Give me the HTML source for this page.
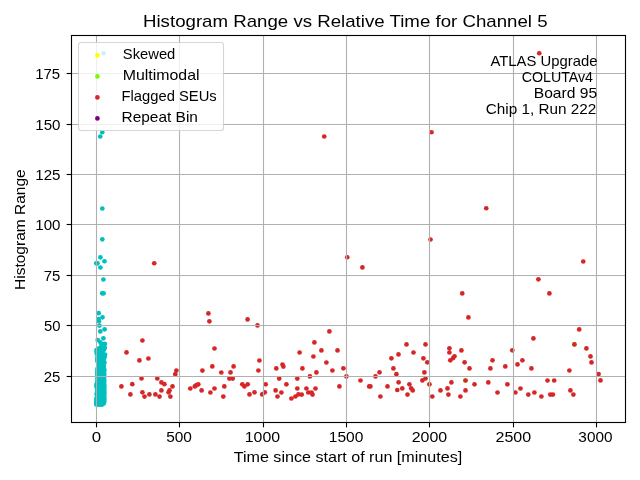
<!DOCTYPE html><html><head><meta charset="utf-8"><title>Histogram Range vs Relative Time</title><style>html,body{margin:0;padding:0;background:#fff;width:640px;height:480px;overflow:hidden}svg{display:block;will-change:transform}text{font-family:"Liberation Sans",sans-serif;fill:#000}</style></head><body>
<svg width="640" height="480" viewBox="0 0 640 480">
<rect width="640" height="480" fill="#fff"/>
<g id="pts">
<circle cx="100.55" cy="347.60" r="2.35" fill="#00bfbf"/>
<circle cx="101.58" cy="347.60" r="2.35" fill="#00bfbf"/>
<circle cx="102.60" cy="347.60" r="2.35" fill="#00bfbf"/>
<circle cx="103.62" cy="347.60" r="2.35" fill="#00bfbf"/>
<circle cx="104.65" cy="347.60" r="2.35" fill="#00bfbf"/>
<circle cx="98.95" cy="349.00" r="2.35" fill="#00bfbf"/>
<circle cx="99.99" cy="349.00" r="2.35" fill="#00bfbf"/>
<circle cx="101.03" cy="349.00" r="2.35" fill="#00bfbf"/>
<circle cx="102.07" cy="349.00" r="2.35" fill="#00bfbf"/>
<circle cx="103.11" cy="349.00" r="2.35" fill="#00bfbf"/>
<circle cx="104.15" cy="349.00" r="2.35" fill="#00bfbf"/>
<circle cx="96.55" cy="350.00" r="2.35" fill="#00bfbf"/>
<circle cx="97.73" cy="350.00" r="2.35" fill="#00bfbf"/>
<circle cx="98.92" cy="350.00" r="2.35" fill="#00bfbf"/>
<circle cx="100.10" cy="350.00" r="2.35" fill="#00bfbf"/>
<circle cx="101.28" cy="350.00" r="2.35" fill="#00bfbf"/>
<circle cx="102.47" cy="350.00" r="2.35" fill="#00bfbf"/>
<circle cx="103.65" cy="350.00" r="2.35" fill="#00bfbf"/>
<circle cx="96.55" cy="352.00" r="2.35" fill="#00bfbf"/>
<circle cx="97.69" cy="352.00" r="2.35" fill="#00bfbf"/>
<circle cx="98.83" cy="352.00" r="2.35" fill="#00bfbf"/>
<circle cx="99.97" cy="352.00" r="2.35" fill="#00bfbf"/>
<circle cx="101.11" cy="352.00" r="2.35" fill="#00bfbf"/>
<circle cx="102.25" cy="352.00" r="2.35" fill="#00bfbf"/>
<circle cx="96.95" cy="354.00" r="2.35" fill="#00bfbf"/>
<circle cx="98.09" cy="354.00" r="2.35" fill="#00bfbf"/>
<circle cx="99.23" cy="354.00" r="2.35" fill="#00bfbf"/>
<circle cx="100.37" cy="354.00" r="2.35" fill="#00bfbf"/>
<circle cx="101.51" cy="354.00" r="2.35" fill="#00bfbf"/>
<circle cx="102.65" cy="354.00" r="2.35" fill="#00bfbf"/>
<circle cx="99.85" cy="355.50" r="2.35" fill="#00bfbf"/>
<circle cx="101.00" cy="355.50" r="2.35" fill="#00bfbf"/>
<circle cx="102.15" cy="355.50" r="2.35" fill="#00bfbf"/>
<circle cx="103.30" cy="355.50" r="2.35" fill="#00bfbf"/>
<circle cx="104.45" cy="355.50" r="2.35" fill="#00bfbf"/>
<circle cx="97.55" cy="357.00" r="2.35" fill="#00bfbf"/>
<circle cx="98.73" cy="357.00" r="2.35" fill="#00bfbf"/>
<circle cx="99.92" cy="357.00" r="2.35" fill="#00bfbf"/>
<circle cx="101.10" cy="357.00" r="2.35" fill="#00bfbf"/>
<circle cx="102.28" cy="357.00" r="2.35" fill="#00bfbf"/>
<circle cx="103.47" cy="357.00" r="2.35" fill="#00bfbf"/>
<circle cx="104.65" cy="357.00" r="2.35" fill="#00bfbf"/>
<circle cx="97.35" cy="359.00" r="2.35" fill="#00bfbf"/>
<circle cx="98.43" cy="359.00" r="2.35" fill="#00bfbf"/>
<circle cx="99.52" cy="359.00" r="2.35" fill="#00bfbf"/>
<circle cx="100.60" cy="359.00" r="2.35" fill="#00bfbf"/>
<circle cx="101.68" cy="359.00" r="2.35" fill="#00bfbf"/>
<circle cx="102.77" cy="359.00" r="2.35" fill="#00bfbf"/>
<circle cx="103.85" cy="359.00" r="2.35" fill="#00bfbf"/>
<circle cx="97.35" cy="361.00" r="2.35" fill="#00bfbf"/>
<circle cx="98.57" cy="361.00" r="2.35" fill="#00bfbf"/>
<circle cx="99.79" cy="361.00" r="2.35" fill="#00bfbf"/>
<circle cx="101.01" cy="361.00" r="2.35" fill="#00bfbf"/>
<circle cx="102.23" cy="361.00" r="2.35" fill="#00bfbf"/>
<circle cx="103.45" cy="361.00" r="2.35" fill="#00bfbf"/>
<circle cx="98.75" cy="362.50" r="2.35" fill="#00bfbf"/>
<circle cx="99.89" cy="362.50" r="2.35" fill="#00bfbf"/>
<circle cx="101.03" cy="362.50" r="2.35" fill="#00bfbf"/>
<circle cx="102.17" cy="362.50" r="2.35" fill="#00bfbf"/>
<circle cx="103.31" cy="362.50" r="2.35" fill="#00bfbf"/>
<circle cx="104.45" cy="362.50" r="2.35" fill="#00bfbf"/>
<circle cx="98.75" cy="364.00" r="2.35" fill="#00bfbf"/>
<circle cx="100.03" cy="364.00" r="2.35" fill="#00bfbf"/>
<circle cx="101.30" cy="364.00" r="2.35" fill="#00bfbf"/>
<circle cx="102.58" cy="364.00" r="2.35" fill="#00bfbf"/>
<circle cx="103.85" cy="364.00" r="2.35" fill="#00bfbf"/>
<circle cx="98.75" cy="366.00" r="2.35" fill="#00bfbf"/>
<circle cx="99.97" cy="366.00" r="2.35" fill="#00bfbf"/>
<circle cx="101.20" cy="366.00" r="2.35" fill="#00bfbf"/>
<circle cx="102.43" cy="366.00" r="2.35" fill="#00bfbf"/>
<circle cx="103.65" cy="366.00" r="2.35" fill="#00bfbf"/>
<circle cx="97.75" cy="368.00" r="2.35" fill="#00bfbf"/>
<circle cx="98.97" cy="368.00" r="2.35" fill="#00bfbf"/>
<circle cx="100.19" cy="368.00" r="2.35" fill="#00bfbf"/>
<circle cx="101.41" cy="368.00" r="2.35" fill="#00bfbf"/>
<circle cx="102.63" cy="368.00" r="2.35" fill="#00bfbf"/>
<circle cx="103.85" cy="368.00" r="2.35" fill="#00bfbf"/>
<circle cx="97.35" cy="370.00" r="2.35" fill="#00bfbf"/>
<circle cx="98.53" cy="370.00" r="2.35" fill="#00bfbf"/>
<circle cx="99.72" cy="370.00" r="2.35" fill="#00bfbf"/>
<circle cx="100.90" cy="370.00" r="2.35" fill="#00bfbf"/>
<circle cx="102.08" cy="370.00" r="2.35" fill="#00bfbf"/>
<circle cx="103.27" cy="370.00" r="2.35" fill="#00bfbf"/>
<circle cx="104.45" cy="370.00" r="2.35" fill="#00bfbf"/>
<circle cx="97.35" cy="372.00" r="2.35" fill="#00bfbf"/>
<circle cx="98.47" cy="372.00" r="2.35" fill="#00bfbf"/>
<circle cx="99.58" cy="372.00" r="2.35" fill="#00bfbf"/>
<circle cx="100.70" cy="372.00" r="2.35" fill="#00bfbf"/>
<circle cx="101.82" cy="372.00" r="2.35" fill="#00bfbf"/>
<circle cx="102.93" cy="372.00" r="2.35" fill="#00bfbf"/>
<circle cx="104.05" cy="372.00" r="2.35" fill="#00bfbf"/>
<circle cx="97.35" cy="374.00" r="2.35" fill="#00bfbf"/>
<circle cx="98.50" cy="374.00" r="2.35" fill="#00bfbf"/>
<circle cx="99.65" cy="374.00" r="2.35" fill="#00bfbf"/>
<circle cx="100.80" cy="374.00" r="2.35" fill="#00bfbf"/>
<circle cx="101.95" cy="374.00" r="2.35" fill="#00bfbf"/>
<circle cx="103.10" cy="374.00" r="2.35" fill="#00bfbf"/>
<circle cx="104.25" cy="374.00" r="2.35" fill="#00bfbf"/>
<circle cx="97.45" cy="376.00" r="2.35" fill="#00bfbf"/>
<circle cx="98.57" cy="376.00" r="2.35" fill="#00bfbf"/>
<circle cx="99.68" cy="376.00" r="2.35" fill="#00bfbf"/>
<circle cx="100.80" cy="376.00" r="2.35" fill="#00bfbf"/>
<circle cx="101.92" cy="376.00" r="2.35" fill="#00bfbf"/>
<circle cx="103.03" cy="376.00" r="2.35" fill="#00bfbf"/>
<circle cx="104.15" cy="376.00" r="2.35" fill="#00bfbf"/>
<circle cx="97.45" cy="378.00" r="2.35" fill="#00bfbf"/>
<circle cx="98.55" cy="378.00" r="2.35" fill="#00bfbf"/>
<circle cx="99.65" cy="378.00" r="2.35" fill="#00bfbf"/>
<circle cx="100.75" cy="378.00" r="2.35" fill="#00bfbf"/>
<circle cx="101.85" cy="378.00" r="2.35" fill="#00bfbf"/>
<circle cx="102.95" cy="378.00" r="2.35" fill="#00bfbf"/>
<circle cx="104.05" cy="378.00" r="2.35" fill="#00bfbf"/>
<circle cx="97.45" cy="380.00" r="2.35" fill="#00bfbf"/>
<circle cx="98.58" cy="380.00" r="2.35" fill="#00bfbf"/>
<circle cx="99.72" cy="380.00" r="2.35" fill="#00bfbf"/>
<circle cx="100.85" cy="380.00" r="2.35" fill="#00bfbf"/>
<circle cx="101.98" cy="380.00" r="2.35" fill="#00bfbf"/>
<circle cx="103.12" cy="380.00" r="2.35" fill="#00bfbf"/>
<circle cx="104.25" cy="380.00" r="2.35" fill="#00bfbf"/>
<circle cx="97.45" cy="382.00" r="2.35" fill="#00bfbf"/>
<circle cx="98.57" cy="382.00" r="2.35" fill="#00bfbf"/>
<circle cx="99.68" cy="382.00" r="2.35" fill="#00bfbf"/>
<circle cx="100.80" cy="382.00" r="2.35" fill="#00bfbf"/>
<circle cx="101.92" cy="382.00" r="2.35" fill="#00bfbf"/>
<circle cx="103.03" cy="382.00" r="2.35" fill="#00bfbf"/>
<circle cx="104.15" cy="382.00" r="2.35" fill="#00bfbf"/>
<circle cx="96.55" cy="384.00" r="2.35" fill="#00bfbf"/>
<circle cx="97.83" cy="384.00" r="2.35" fill="#00bfbf"/>
<circle cx="99.12" cy="384.00" r="2.35" fill="#00bfbf"/>
<circle cx="100.40" cy="384.00" r="2.35" fill="#00bfbf"/>
<circle cx="101.68" cy="384.00" r="2.35" fill="#00bfbf"/>
<circle cx="102.97" cy="384.00" r="2.35" fill="#00bfbf"/>
<circle cx="104.25" cy="384.00" r="2.35" fill="#00bfbf"/>
<circle cx="96.35" cy="386.00" r="2.35" fill="#00bfbf"/>
<circle cx="97.49" cy="386.00" r="2.35" fill="#00bfbf"/>
<circle cx="98.64" cy="386.00" r="2.35" fill="#00bfbf"/>
<circle cx="99.78" cy="386.00" r="2.35" fill="#00bfbf"/>
<circle cx="100.92" cy="386.00" r="2.35" fill="#00bfbf"/>
<circle cx="102.06" cy="386.00" r="2.35" fill="#00bfbf"/>
<circle cx="103.21" cy="386.00" r="2.35" fill="#00bfbf"/>
<circle cx="104.35" cy="386.00" r="2.35" fill="#00bfbf"/>
<circle cx="96.95" cy="388.00" r="2.35" fill="#00bfbf"/>
<circle cx="98.18" cy="388.00" r="2.35" fill="#00bfbf"/>
<circle cx="99.42" cy="388.00" r="2.35" fill="#00bfbf"/>
<circle cx="100.65" cy="388.00" r="2.35" fill="#00bfbf"/>
<circle cx="101.88" cy="388.00" r="2.35" fill="#00bfbf"/>
<circle cx="103.12" cy="388.00" r="2.35" fill="#00bfbf"/>
<circle cx="104.35" cy="388.00" r="2.35" fill="#00bfbf"/>
<circle cx="97.35" cy="390.00" r="2.35" fill="#00bfbf"/>
<circle cx="98.50" cy="390.00" r="2.35" fill="#00bfbf"/>
<circle cx="99.65" cy="390.00" r="2.35" fill="#00bfbf"/>
<circle cx="100.80" cy="390.00" r="2.35" fill="#00bfbf"/>
<circle cx="101.95" cy="390.00" r="2.35" fill="#00bfbf"/>
<circle cx="103.10" cy="390.00" r="2.35" fill="#00bfbf"/>
<circle cx="104.25" cy="390.00" r="2.35" fill="#00bfbf"/>
<circle cx="97.35" cy="392.00" r="2.35" fill="#00bfbf"/>
<circle cx="98.52" cy="392.00" r="2.35" fill="#00bfbf"/>
<circle cx="99.68" cy="392.00" r="2.35" fill="#00bfbf"/>
<circle cx="100.85" cy="392.00" r="2.35" fill="#00bfbf"/>
<circle cx="102.02" cy="392.00" r="2.35" fill="#00bfbf"/>
<circle cx="103.18" cy="392.00" r="2.35" fill="#00bfbf"/>
<circle cx="104.35" cy="392.00" r="2.35" fill="#00bfbf"/>
<circle cx="96.55" cy="394.00" r="2.35" fill="#00bfbf"/>
<circle cx="97.66" cy="394.00" r="2.35" fill="#00bfbf"/>
<circle cx="98.78" cy="394.00" r="2.35" fill="#00bfbf"/>
<circle cx="99.89" cy="394.00" r="2.35" fill="#00bfbf"/>
<circle cx="101.01" cy="394.00" r="2.35" fill="#00bfbf"/>
<circle cx="102.12" cy="394.00" r="2.35" fill="#00bfbf"/>
<circle cx="103.24" cy="394.00" r="2.35" fill="#00bfbf"/>
<circle cx="104.35" cy="394.00" r="2.35" fill="#00bfbf"/>
<circle cx="97.35" cy="396.00" r="2.35" fill="#00bfbf"/>
<circle cx="98.50" cy="396.00" r="2.35" fill="#00bfbf"/>
<circle cx="99.65" cy="396.00" r="2.35" fill="#00bfbf"/>
<circle cx="100.80" cy="396.00" r="2.35" fill="#00bfbf"/>
<circle cx="101.95" cy="396.00" r="2.35" fill="#00bfbf"/>
<circle cx="103.10" cy="396.00" r="2.35" fill="#00bfbf"/>
<circle cx="104.25" cy="396.00" r="2.35" fill="#00bfbf"/>
<circle cx="96.55" cy="398.00" r="2.35" fill="#00bfbf"/>
<circle cx="97.66" cy="398.00" r="2.35" fill="#00bfbf"/>
<circle cx="98.78" cy="398.00" r="2.35" fill="#00bfbf"/>
<circle cx="99.89" cy="398.00" r="2.35" fill="#00bfbf"/>
<circle cx="101.01" cy="398.00" r="2.35" fill="#00bfbf"/>
<circle cx="102.12" cy="398.00" r="2.35" fill="#00bfbf"/>
<circle cx="103.24" cy="398.00" r="2.35" fill="#00bfbf"/>
<circle cx="104.35" cy="398.00" r="2.35" fill="#00bfbf"/>
<circle cx="96.35" cy="400.00" r="2.35" fill="#00bfbf"/>
<circle cx="97.49" cy="400.00" r="2.35" fill="#00bfbf"/>
<circle cx="98.64" cy="400.00" r="2.35" fill="#00bfbf"/>
<circle cx="99.78" cy="400.00" r="2.35" fill="#00bfbf"/>
<circle cx="100.92" cy="400.00" r="2.35" fill="#00bfbf"/>
<circle cx="102.06" cy="400.00" r="2.35" fill="#00bfbf"/>
<circle cx="103.21" cy="400.00" r="2.35" fill="#00bfbf"/>
<circle cx="104.35" cy="400.00" r="2.35" fill="#00bfbf"/>
<circle cx="96.35" cy="402.00" r="2.35" fill="#00bfbf"/>
<circle cx="97.48" cy="402.00" r="2.35" fill="#00bfbf"/>
<circle cx="98.61" cy="402.00" r="2.35" fill="#00bfbf"/>
<circle cx="99.74" cy="402.00" r="2.35" fill="#00bfbf"/>
<circle cx="100.86" cy="402.00" r="2.35" fill="#00bfbf"/>
<circle cx="101.99" cy="402.00" r="2.35" fill="#00bfbf"/>
<circle cx="103.12" cy="402.00" r="2.35" fill="#00bfbf"/>
<circle cx="104.25" cy="402.00" r="2.35" fill="#00bfbf"/>
<circle cx="96.35" cy="403.50" r="2.35" fill="#00bfbf"/>
<circle cx="97.57" cy="403.50" r="2.35" fill="#00bfbf"/>
<circle cx="98.78" cy="403.50" r="2.35" fill="#00bfbf"/>
<circle cx="100.00" cy="403.50" r="2.35" fill="#00bfbf"/>
<circle cx="101.22" cy="403.50" r="2.35" fill="#00bfbf"/>
<circle cx="102.43" cy="403.50" r="2.35" fill="#00bfbf"/>
<circle cx="103.65" cy="403.50" r="2.35" fill="#00bfbf"/>
<circle cx="96.35" cy="404.40" r="2.35" fill="#00bfbf"/>
<circle cx="97.53" cy="404.40" r="2.35" fill="#00bfbf"/>
<circle cx="98.71" cy="404.40" r="2.35" fill="#00bfbf"/>
<circle cx="99.89" cy="404.40" r="2.35" fill="#00bfbf"/>
<circle cx="101.07" cy="404.40" r="2.35" fill="#00bfbf"/>
<circle cx="102.25" cy="404.40" r="2.35" fill="#00bfbf"/>
<circle cx="103.50" cy="53.25" r="2.35" fill="#00bfbf"/>
<circle cx="102.25" cy="132.25" r="2.35" fill="#00bfbf"/>
<circle cx="100.25" cy="136.50" r="2.35" fill="#00bfbf"/>
<circle cx="102.30" cy="208.50" r="2.35" fill="#00bfbf"/>
<circle cx="102.30" cy="239.30" r="2.35" fill="#00bfbf"/>
<circle cx="100.40" cy="257.30" r="2.35" fill="#00bfbf"/>
<circle cx="104.50" cy="261.25" r="2.35" fill="#00bfbf"/>
<circle cx="97.50" cy="263.30" r="2.35" fill="#00bfbf"/>
<circle cx="96.30" cy="263.30" r="2.35" fill="#00bfbf"/>
<circle cx="100.40" cy="267.50" r="2.35" fill="#00bfbf"/>
<circle cx="103.40" cy="279.50" r="2.35" fill="#00bfbf"/>
<circle cx="102.20" cy="293.30" r="2.35" fill="#00bfbf"/>
<circle cx="103.60" cy="293.30" r="2.35" fill="#00bfbf"/>
<circle cx="98.70" cy="313.20" r="2.35" fill="#00bfbf"/>
<circle cx="102.50" cy="317.30" r="2.35" fill="#00bfbf"/>
<circle cx="98.50" cy="319.20" r="2.35" fill="#00bfbf"/>
<circle cx="98.90" cy="321.25" r="2.35" fill="#00bfbf"/>
<circle cx="99.40" cy="325.60" r="2.35" fill="#00bfbf"/>
<circle cx="104.60" cy="329.30" r="2.35" fill="#00bfbf"/>
<circle cx="100.30" cy="331.40" r="2.35" fill="#00bfbf"/>
<circle cx="103.40" cy="338.30" r="2.35" fill="#00bfbf"/>
<circle cx="97.70" cy="340.00" r="2.35" fill="#00bfbf"/>
<circle cx="98.75" cy="348.50" r="2.35" fill="#00bfbf"/>
<circle cx="104.50" cy="348.00" r="2.35" fill="#00bfbf"/>
<circle cx="101.50" cy="351.00" r="2.35" fill="#00bfbf"/>
<circle cx="98.00" cy="353.00" r="2.35" fill="#00bfbf"/>
<circle cx="105.00" cy="354.50" r="2.35" fill="#00bfbf"/>
<circle cx="100.40" cy="342.25" r="2.35" fill="#00bfbf"/>
<circle cx="104.80" cy="343.90" r="2.35" fill="#00bfbf"/>
<circle cx="101.50" cy="344.30" r="2.35" fill="#00bfbf"/>
<circle cx="429.40" cy="384.30" r="2.35" fill="#ffff00"/>
<circle cx="465.50" cy="380.50" r="2.35" fill="#7cfc00"/>
<circle cx="574.40" cy="344.40" r="2.35" fill="#7cfc00"/>
<circle cx="324.25" cy="136.50" r="2.35" fill="#d62728"/>
<circle cx="431.50" cy="132.25" r="2.35" fill="#d62728"/>
<circle cx="539.25" cy="53.25" r="2.35" fill="#d62728"/>
<circle cx="154.25" cy="263.25" r="2.35" fill="#d62728"/>
<circle cx="347.25" cy="257.25" r="2.35" fill="#d62728"/>
<circle cx="362.40" cy="267.40" r="2.35" fill="#d62728"/>
<circle cx="486.25" cy="208.25" r="2.35" fill="#d62728"/>
<circle cx="430.50" cy="239.50" r="2.35" fill="#d62728"/>
<circle cx="583.25" cy="261.50" r="2.35" fill="#d62728"/>
<circle cx="208.40" cy="313.40" r="2.35" fill="#d62728"/>
<circle cx="209.40" cy="321.30" r="2.35" fill="#d62728"/>
<circle cx="142.40" cy="340.50" r="2.35" fill="#d62728"/>
<circle cx="126.50" cy="352.40" r="2.35" fill="#d62728"/>
<circle cx="139.40" cy="360.40" r="2.35" fill="#d62728"/>
<circle cx="148.40" cy="358.50" r="2.35" fill="#d62728"/>
<circle cx="214.50" cy="348.50" r="2.35" fill="#d62728"/>
<circle cx="247.60" cy="319.40" r="2.35" fill="#d62728"/>
<circle cx="257.50" cy="325.40" r="2.35" fill="#d62728"/>
<circle cx="538.40" cy="279.30" r="2.35" fill="#d62728"/>
<circle cx="549.40" cy="293.40" r="2.35" fill="#d62728"/>
<circle cx="462.25" cy="293.40" r="2.35" fill="#d62728"/>
<circle cx="468.40" cy="317.40" r="2.35" fill="#d62728"/>
<circle cx="579.20" cy="329.40" r="2.35" fill="#d62728"/>
<circle cx="533.40" cy="338.40" r="2.35" fill="#d62728"/>
<circle cx="141.50" cy="378.50" r="2.35" fill="#d62728"/>
<circle cx="157.30" cy="378.50" r="2.35" fill="#d62728"/>
<circle cx="161.40" cy="382.40" r="2.35" fill="#d62728"/>
<circle cx="164.40" cy="384.20" r="2.35" fill="#d62728"/>
<circle cx="132.30" cy="384.20" r="2.35" fill="#d62728"/>
<circle cx="121.40" cy="386.40" r="2.35" fill="#d62728"/>
<circle cx="130.40" cy="394.40" r="2.35" fill="#d62728"/>
<circle cx="142.40" cy="392.30" r="2.35" fill="#d62728"/>
<circle cx="144.50" cy="396.60" r="2.35" fill="#d62728"/>
<circle cx="149.40" cy="394.40" r="2.35" fill="#d62728"/>
<circle cx="155.40" cy="394.40" r="2.35" fill="#d62728"/>
<circle cx="159.50" cy="396.60" r="2.35" fill="#d62728"/>
<circle cx="161.40" cy="390.40" r="2.35" fill="#d62728"/>
<circle cx="169.50" cy="390.40" r="2.35" fill="#d62728"/>
<circle cx="168.60" cy="392.30" r="2.35" fill="#d62728"/>
<circle cx="170.40" cy="396.60" r="2.35" fill="#d62728"/>
<circle cx="172.50" cy="386.40" r="2.35" fill="#d62728"/>
<circle cx="175.30" cy="374.20" r="2.35" fill="#d62728"/>
<circle cx="176.40" cy="370.60" r="2.35" fill="#d62728"/>
<circle cx="190.30" cy="388.50" r="2.35" fill="#d62728"/>
<circle cx="194.80" cy="386.40" r="2.35" fill="#d62728"/>
<circle cx="196.40" cy="385.20" r="2.35" fill="#d62728"/>
<circle cx="198.30" cy="384.30" r="2.35" fill="#d62728"/>
<circle cx="201.60" cy="390.40" r="2.35" fill="#d62728"/>
<circle cx="202.40" cy="370.60" r="2.35" fill="#d62728"/>
<circle cx="210.40" cy="392.50" r="2.35" fill="#d62728"/>
<circle cx="214.50" cy="388.50" r="2.35" fill="#d62728"/>
<circle cx="221.30" cy="372.50" r="2.35" fill="#d62728"/>
<circle cx="224.30" cy="386.40" r="2.35" fill="#d62728"/>
<circle cx="223.30" cy="396.60" r="2.35" fill="#d62728"/>
<circle cx="212.30" cy="366.40" r="2.35" fill="#d62728"/>
<circle cx="230.50" cy="372.40" r="2.35" fill="#d62728"/>
<circle cx="233.60" cy="366.40" r="2.35" fill="#d62728"/>
<circle cx="259.40" cy="360.50" r="2.35" fill="#d62728"/>
<circle cx="258.40" cy="370.50" r="2.35" fill="#d62728"/>
<circle cx="276.30" cy="368.40" r="2.35" fill="#d62728"/>
<circle cx="229.40" cy="378.60" r="2.35" fill="#d62728"/>
<circle cx="232.70" cy="378.60" r="2.35" fill="#d62728"/>
<circle cx="242.30" cy="384.30" r="2.35" fill="#d62728"/>
<circle cx="244.40" cy="386.40" r="2.35" fill="#d62728"/>
<circle cx="247.70" cy="384.30" r="2.35" fill="#d62728"/>
<circle cx="249.50" cy="394.40" r="2.35" fill="#d62728"/>
<circle cx="254.50" cy="392.30" r="2.35" fill="#d62728"/>
<circle cx="262.20" cy="394.40" r="2.35" fill="#d62728"/>
<circle cx="264.80" cy="392.30" r="2.35" fill="#d62728"/>
<circle cx="265.70" cy="384.30" r="2.35" fill="#d62728"/>
<circle cx="279.20" cy="378.60" r="2.35" fill="#d62728"/>
<circle cx="275.60" cy="390.40" r="2.35" fill="#d62728"/>
<circle cx="277.50" cy="396.50" r="2.35" fill="#d62728"/>
<circle cx="329.40" cy="331.40" r="2.35" fill="#d62728"/>
<circle cx="314.40" cy="342.40" r="2.35" fill="#d62728"/>
<circle cx="321.40" cy="350.40" r="2.35" fill="#d62728"/>
<circle cx="299.60" cy="352.50" r="2.35" fill="#d62728"/>
<circle cx="313.40" cy="356.50" r="2.35" fill="#d62728"/>
<circle cx="326.40" cy="362.50" r="2.35" fill="#d62728"/>
<circle cx="282.50" cy="364.50" r="2.35" fill="#d62728"/>
<circle cx="283.40" cy="366.60" r="2.35" fill="#d62728"/>
<circle cx="302.40" cy="368.40" r="2.35" fill="#d62728"/>
<circle cx="316.40" cy="372.40" r="2.35" fill="#d62728"/>
<circle cx="332.40" cy="370.50" r="2.35" fill="#d62728"/>
<circle cx="309.90" cy="376.40" r="2.35" fill="#d62728"/>
<circle cx="297.30" cy="378.60" r="2.35" fill="#d62728"/>
<circle cx="286.40" cy="384.30" r="2.35" fill="#d62728"/>
<circle cx="281.40" cy="392.50" r="2.35" fill="#d62728"/>
<circle cx="297.30" cy="388.50" r="2.35" fill="#d62728"/>
<circle cx="291.40" cy="398.50" r="2.35" fill="#d62728"/>
<circle cx="295.40" cy="396.50" r="2.35" fill="#d62728"/>
<circle cx="298.40" cy="394.40" r="2.35" fill="#d62728"/>
<circle cx="301.70" cy="394.60" r="2.35" fill="#d62728"/>
<circle cx="306.40" cy="388.50" r="2.35" fill="#d62728"/>
<circle cx="308.30" cy="392.50" r="2.35" fill="#d62728"/>
<circle cx="311.60" cy="392.50" r="2.35" fill="#d62728"/>
<circle cx="312.50" cy="394.60" r="2.35" fill="#d62728"/>
<circle cx="315.50" cy="388.50" r="2.35" fill="#d62728"/>
<circle cx="337.50" cy="350.40" r="2.35" fill="#d62728"/>
<circle cx="343.40" cy="368.30" r="2.35" fill="#d62728"/>
<circle cx="379.50" cy="372.30" r="2.35" fill="#d62728"/>
<circle cx="346.40" cy="376.40" r="2.35" fill="#d62728"/>
<circle cx="360.50" cy="380.50" r="2.35" fill="#d62728"/>
<circle cx="375.50" cy="376.40" r="2.35" fill="#d62728"/>
<circle cx="339.40" cy="386.40" r="2.35" fill="#d62728"/>
<circle cx="369.20" cy="386.40" r="2.35" fill="#d62728"/>
<circle cx="370.40" cy="386.40" r="2.35" fill="#d62728"/>
<circle cx="387.50" cy="386.40" r="2.35" fill="#d62728"/>
<circle cx="380.40" cy="396.50" r="2.35" fill="#d62728"/>
<circle cx="406.50" cy="344.40" r="2.35" fill="#d62728"/>
<circle cx="425.50" cy="344.40" r="2.35" fill="#d62728"/>
<circle cx="398.50" cy="354.40" r="2.35" fill="#d62728"/>
<circle cx="413.50" cy="352.50" r="2.35" fill="#d62728"/>
<circle cx="391.40" cy="358.30" r="2.35" fill="#d62728"/>
<circle cx="423.40" cy="358.30" r="2.35" fill="#d62728"/>
<circle cx="427.30" cy="362.30" r="2.35" fill="#d62728"/>
<circle cx="393.40" cy="368.40" r="2.35" fill="#d62728"/>
<circle cx="424.40" cy="372.40" r="2.35" fill="#d62728"/>
<circle cx="396.40" cy="374.20" r="2.35" fill="#d62728"/>
<circle cx="422.40" cy="380.40" r="2.35" fill="#d62728"/>
<circle cx="425.50" cy="378.50" r="2.35" fill="#d62728"/>
<circle cx="398.60" cy="382.30" r="2.35" fill="#d62728"/>
<circle cx="409.40" cy="384.30" r="2.35" fill="#d62728"/>
<circle cx="411.20" cy="388.30" r="2.35" fill="#d62728"/>
<circle cx="412.70" cy="390.40" r="2.35" fill="#d62728"/>
<circle cx="402.30" cy="388.40" r="2.35" fill="#d62728"/>
<circle cx="397.30" cy="390.00" r="2.35" fill="#d62728"/>
<circle cx="407.50" cy="394.60" r="2.35" fill="#d62728"/>
<circle cx="432.30" cy="396.50" r="2.35" fill="#d62728"/>
<circle cx="440.50" cy="390.40" r="2.35" fill="#d62728"/>
<circle cx="449.40" cy="348.30" r="2.35" fill="#d62728"/>
<circle cx="449.40" cy="352.50" r="2.35" fill="#d62728"/>
<circle cx="461.40" cy="350.40" r="2.35" fill="#d62728"/>
<circle cx="454.50" cy="356.25" r="2.35" fill="#d62728"/>
<circle cx="453.10" cy="358.10" r="2.35" fill="#d62728"/>
<circle cx="450.30" cy="360.30" r="2.35" fill="#d62728"/>
<circle cx="464.60" cy="362.30" r="2.35" fill="#d62728"/>
<circle cx="469.50" cy="368.40" r="2.35" fill="#d62728"/>
<circle cx="492.50" cy="360.30" r="2.35" fill="#d62728"/>
<circle cx="490.40" cy="368.40" r="2.35" fill="#d62728"/>
<circle cx="451.40" cy="382.40" r="2.35" fill="#d62728"/>
<circle cx="474.50" cy="384.30" r="2.35" fill="#d62728"/>
<circle cx="488.30" cy="382.40" r="2.35" fill="#d62728"/>
<circle cx="447.50" cy="388.40" r="2.35" fill="#d62728"/>
<circle cx="448.40" cy="394.60" r="2.35" fill="#d62728"/>
<circle cx="460.40" cy="396.50" r="2.35" fill="#d62728"/>
<circle cx="465.50" cy="390.40" r="2.35" fill="#d62728"/>
<circle cx="497.50" cy="392.50" r="2.35" fill="#d62728"/>
<circle cx="512.30" cy="350.30" r="2.35" fill="#d62728"/>
<circle cx="522.40" cy="360.30" r="2.35" fill="#d62728"/>
<circle cx="517.50" cy="364.40" r="2.35" fill="#d62728"/>
<circle cx="505.30" cy="366.40" r="2.35" fill="#d62728"/>
<circle cx="531.40" cy="368.40" r="2.35" fill="#d62728"/>
<circle cx="507.40" cy="384.30" r="2.35" fill="#d62728"/>
<circle cx="515.40" cy="392.50" r="2.35" fill="#d62728"/>
<circle cx="520.50" cy="388.50" r="2.35" fill="#d62728"/>
<circle cx="528.30" cy="394.60" r="2.35" fill="#d62728"/>
<circle cx="534.40" cy="392.50" r="2.35" fill="#d62728"/>
<circle cx="541.40" cy="396.50" r="2.35" fill="#d62728"/>
<circle cx="547.50" cy="380.50" r="2.35" fill="#d62728"/>
<circle cx="554.20" cy="380.50" r="2.35" fill="#d62728"/>
<circle cx="550.30" cy="394.60" r="2.35" fill="#d62728"/>
<circle cx="552.90" cy="394.60" r="2.35" fill="#d62728"/>
<circle cx="586.40" cy="348.40" r="2.35" fill="#d62728"/>
<circle cx="590.50" cy="356.40" r="2.35" fill="#d62728"/>
<circle cx="591.50" cy="362.40" r="2.35" fill="#d62728"/>
<circle cx="569.40" cy="370.50" r="2.35" fill="#d62728"/>
<circle cx="598.60" cy="374.10" r="2.35" fill="#d62728"/>
<circle cx="600.50" cy="380.40" r="2.35" fill="#d62728"/>
<circle cx="570.40" cy="390.40" r="2.35" fill="#d62728"/>
<circle cx="573.40" cy="394.60" r="2.35" fill="#d62728"/>
<circle cx="429.40" cy="384.30" r="2.35" fill="#d62728"/>
<circle cx="465.50" cy="380.50" r="2.35" fill="#d62728"/>
<circle cx="574.40" cy="344.40" r="2.35" fill="#d62728"/>
</g>
<g stroke="#b0b0b0" stroke-width="1.11">
<line x1="96.5" y1="35.5" x2="96.5" y2="422.5"/>
<line x1="179.5" y1="35.5" x2="179.5" y2="422.5"/>
<line x1="263.5" y1="35.5" x2="263.5" y2="422.5"/>
<line x1="346.5" y1="35.5" x2="346.5" y2="422.5"/>
<line x1="429.5" y1="35.5" x2="429.5" y2="422.5"/>
<line x1="513.5" y1="35.5" x2="513.5" y2="422.5"/>
<line x1="596.5" y1="35.5" x2="596.5" y2="422.5"/>
<line x1="71.5" y1="376.5" x2="625.5" y2="376.5"/>
<line x1="71.5" y1="325.5" x2="625.5" y2="325.5"/>
<line x1="71.5" y1="275.5" x2="625.5" y2="275.5"/>
<line x1="71.5" y1="224.5" x2="625.5" y2="224.5"/>
<line x1="71.5" y1="174.5" x2="625.5" y2="174.5"/>
<line x1="71.5" y1="124.5" x2="625.5" y2="124.5"/>
<line x1="71.5" y1="73.5" x2="625.5" y2="73.5"/>
</g>
<rect x="71.5" y="35.5" width="554.0" height="387.0" fill="none" stroke="#000" stroke-width="1.11"/>
<g stroke="#000" stroke-width="1.11">
<line x1="96.5" y1="422.5" x2="96.5" y2="427.36"/>
<line x1="179.5" y1="422.5" x2="179.5" y2="427.36"/>
<line x1="263.5" y1="422.5" x2="263.5" y2="427.36"/>
<line x1="346.5" y1="422.5" x2="346.5" y2="427.36"/>
<line x1="429.5" y1="422.5" x2="429.5" y2="427.36"/>
<line x1="513.5" y1="422.5" x2="513.5" y2="427.36"/>
<line x1="596.5" y1="422.5" x2="596.5" y2="427.36"/>
<line x1="71.5" y1="376.5" x2="66.64" y2="376.5"/>
<line x1="71.5" y1="325.5" x2="66.64" y2="325.5"/>
<line x1="71.5" y1="275.5" x2="66.64" y2="275.5"/>
<line x1="71.5" y1="224.5" x2="66.64" y2="224.5"/>
<line x1="71.5" y1="174.5" x2="66.64" y2="174.5"/>
<line x1="71.5" y1="124.5" x2="66.64" y2="124.5"/>
<line x1="71.5" y1="73.5" x2="66.64" y2="73.5"/>
</g>
<text x="490.53" y="65.75" font-size="14.1" textLength="106.88" lengthAdjust="spacingAndGlyphs">ATLAS Upgrade</text>
<text x="521.79" y="82.00" font-size="14.1" textLength="71.24" lengthAdjust="spacingAndGlyphs">COLUTAv4</text>
<text x="533.75" y="98.00" font-size="14.1" textLength="63.35" lengthAdjust="spacingAndGlyphs">Board 95</text>
<text x="485.84" y="114.00" font-size="14.1" textLength="110.46" lengthAdjust="spacingAndGlyphs">Chip 1, Run 222</text>
<rect x="78.5" y="42.5" width="145" height="88" rx="2.8" fill="#fff" fill-opacity="0.8" stroke="#cccccc" stroke-opacity="0.8" stroke-width="1.11"/>
<circle cx="97.40" cy="55.40" r="2.35" fill="#ffff00"/>
<text x="122.84" y="58.90" font-size="14.1" textLength="52.46" lengthAdjust="spacingAndGlyphs">Skewed</text>
<circle cx="97.40" cy="76.40" r="2.35" fill="#7cfc00"/>
<text x="122.73" y="79.90" font-size="14.1" textLength="76.81" lengthAdjust="spacingAndGlyphs">Multimodal</text>
<circle cx="97.40" cy="97.40" r="2.35" fill="#d62728"/>
<text x="121.57" y="100.90" font-size="14.1" textLength="95.17" lengthAdjust="spacingAndGlyphs">Flagged SEUs</text>
<circle cx="97.40" cy="118.40" r="2.35" fill="#800080"/>
<text x="121.51" y="121.90" font-size="14.1" textLength="76.43" lengthAdjust="spacingAndGlyphs">Repeat Bin</text>
<text x="91.73" y="442.10" font-size="14.1" textLength="9.37" lengthAdjust="spacingAndGlyphs">0</text>
<text x="166.18" y="442.10" font-size="14.1" textLength="25.79" lengthAdjust="spacingAndGlyphs">500</text>
<text x="244.81" y="442.10" font-size="14.1" textLength="35.32" lengthAdjust="spacingAndGlyphs">1000</text>
<text x="328.83" y="442.10" font-size="14.1" textLength="34.58" lengthAdjust="spacingAndGlyphs">1500</text>
<text x="411.70" y="442.10" font-size="14.1" textLength="35.43" lengthAdjust="spacingAndGlyphs">2000</text>
<text x="495.50" y="442.10" font-size="14.1" textLength="35.64" lengthAdjust="spacingAndGlyphs">2500</text>
<text x="578.39" y="442.10" font-size="14.1" textLength="34.12" lengthAdjust="spacingAndGlyphs">3000</text>
<text x="43.75" y="382.00" font-size="14.1" textLength="16.69" lengthAdjust="spacingAndGlyphs">25</text>
<text x="43.91" y="331.00" font-size="14.1" textLength="16.52" lengthAdjust="spacingAndGlyphs">50</text>
<text x="43.75" y="281.00" font-size="14.1" textLength="16.69" lengthAdjust="spacingAndGlyphs">75</text>
<text x="35.27" y="230.00" font-size="14.1" textLength="25.19" lengthAdjust="spacingAndGlyphs">100</text>
<text x="35.27" y="180.00" font-size="14.1" textLength="25.19" lengthAdjust="spacingAndGlyphs">125</text>
<text x="35.27" y="130.00" font-size="14.1" textLength="25.19" lengthAdjust="spacingAndGlyphs">150</text>
<text x="35.18" y="79.00" font-size="14.1" textLength="24.97" lengthAdjust="spacingAndGlyphs">175</text>
<text x="143.01" y="26.75" font-size="17.0" textLength="404.52" lengthAdjust="spacingAndGlyphs">Histogram Range vs Relative Time for Channel 5</text>
<text x="233.68" y="461.80" font-size="14.1" textLength="228.53" lengthAdjust="spacingAndGlyphs">Time since start of run [minutes]</text>
<g transform="translate(25,0) rotate(-90)"><text x="-289.99" y="0.00" font-size="14.1" textLength="120.71" lengthAdjust="spacingAndGlyphs">Histogram Range</text></g>
</svg></body></html>
